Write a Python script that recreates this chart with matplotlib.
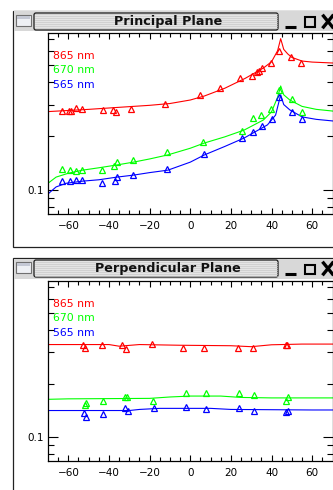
import matplotlib
matplotlib.use('Agg')
import matplotlib.pyplot as plt
import matplotlib.patches as patches
import numpy as np

# ---- data ----
legend_labels = ['865 nm', '670 nm', '565 nm']
colors = ['#ff0000', '#00ff00', '#0000ff']

# Principal plane: measured points
pp_x_red = [-63.1, -59.7, -58.7, -56.2, -53.3, -43.0, -38.0, -36.7, -29.2, -12.5, 4.7,
            14.5, 24.3, 30.2, 32.7, 33.7, 35.1, 39.6, 43.5, 49.4, 54.3]
pp_red = [0.276, 0.276, 0.276, 0.287, 0.284, 0.280, 0.280, 0.273, 0.284, 0.302, 0.340,
          0.371, 0.422, 0.433, 0.456, 0.460, 0.481, 0.512, 0.598, 0.553, 0.512]
pp_x_green = [-63.1, -59.2, -56.2, -53.3, -43.5, -37.6, -36.1, -28.2, -11.5, 6.1, 25.3,
              30.7, 34.6, 39.5, 43.5, 49.9, 55.2]
pp_green = [0.131, 0.129, 0.128, 0.129, 0.129, 0.136, 0.143, 0.147, 0.163, 0.185, 0.214,
            0.253, 0.262, 0.284, 0.362, 0.322, 0.273]
pp_x_blue = [-63.1, -59.2, -56.2, -53.3, -43.5, -37.1, -36.1, -28.2, -11.5, 6.6, 25.3,
             30.7, 35.1, 40.0, 43.9, 49.9, 55.2]
pp_blue = [0.112, 0.112, 0.114, 0.114, 0.109, 0.112, 0.118, 0.121, 0.131, 0.159, 0.195,
           0.211, 0.228, 0.249, 0.331, 0.273, 0.250]

# Principal plane: model curves
ppc_x_red = [-70, -60, -50, -40, -30, -20, -10, 0, 7, 17, 27, 36, 40, 43, 44.5, 46, 48, 50, 55, 60, 70]
ppc_red = [0.274, 0.278, 0.282, 0.287, 0.292, 0.297, 0.304, 0.318, 0.335, 0.37, 0.42, 0.48,
           0.52, 0.60, 0.70, 0.61, 0.575, 0.55, 0.525, 0.518, 0.512]
ppc_x_green = [-70, -66, -60, -53, -45, -36, -28, -20, -11, 0, 7, 17, 26.5, 36, 40, 43, 44.5,
               46, 49, 55, 62, 70]
ppc_green = [0.109, 0.118, 0.124, 0.129, 0.133, 0.138, 0.143, 0.149, 0.157, 0.171, 0.183,
             0.198, 0.216, 0.246, 0.273, 0.33, 0.381, 0.34, 0.318, 0.293, 0.282, 0.276]
ppc_x_blue = [-70, -66, -61, -53, -45, -36, -28, -20, -11, 0, 7, 17, 26.5, 38, 42, 44.5, 46,
              49, 55, 62, 70]
ppc_blue = [0.095, 0.104, 0.109, 0.112, 0.114, 0.118, 0.121, 0.125, 0.129, 0.143, 0.157,
            0.175, 0.195, 0.231, 0.262, 0.34, 0.30, 0.28, 0.256, 0.248, 0.243]

# Perpendicular plane: measured points
pe_x_red = [-52.8, -51.8, -43.5, -33.6, -31.7, -18.9, -3.7, 6.6, 23.3, 30.7, 46.9, 47.4]
pe_red = [0.331, 0.318, 0.331, 0.327, 0.314, 0.335, 0.318, 0.318, 0.318, 0.318, 0.331, 0.327]
pe_x_green = [-51.8, -51.3, -43.0, -32.2, -31.2, -18.4, -2.2, 7.6, 23.8, 31.2, 46.9, 47.9]
pe_green = [0.151, 0.155, 0.159, 0.167, 0.169, 0.159, 0.176, 0.176, 0.178, 0.172, 0.159, 0.169]
pe_x_blue = [-52.3, -51.3, -43.0, -32.2, -30.7, -17.9, -2.2, 7.6, 23.8, 31.2, 46.9, 47.9]
pe_blue = [0.136, 0.129, 0.134, 0.145, 0.140, 0.145, 0.147, 0.143, 0.145, 0.140, 0.138, 0.140]

# Perpendicular plane: model curves
pec_x_red = [-70, -40, -35, -25, -5, 20, 30, 40, 55, 70]
pec_red = [0.331, 0.331, 0.324, 0.331, 0.328, 0.326, 0.322, 0.330, 0.333, 0.333]
pec_x_green = [-70, -60, -20, -10, 0, 15, 25, 40, 70]
pec_green = [0.163, 0.164, 0.165, 0.168, 0.170, 0.170, 0.167, 0.166, 0.166]
pec_x_blue = [-70, -30, -25, -15, 10, 20, 60, 70]
pec_blue = [0.141, 0.141, 0.143, 0.145, 0.145, 0.143, 0.142, 0.142]

W, H = 333, 490
fig = plt.figure(figsize=(W / 100, H / 100), dpi=100)
fig.patch.set_facecolor('white')

# background layer in pixel coordinates for the window decorations
bg = fig.add_axes([0, 0, 1, 1])
bg.set_xlim(0, W)
bg.set_ylim(H, 0)
bg.axis('off')


def draw_window(top, bottom, title):
    # frame
    bg.add_patch(patches.Rectangle((13, top), W, (bottom if bottom else H + 5) - top,
                                   facecolor='white', edgecolor='#222222', linewidth=0.9))
    # title bar
    bg.add_patch(patches.Rectangle((13.5, top + 0.5), W, 20, facecolor='#d8d8d8', edgecolor='none'))
    # window icon
    bg.add_patch(patches.Rectangle((16, top + 4), 15, 11, facecolor='#eef0f4',
                                   edgecolor='#707070', linewidth=0.8))
    bg.add_patch(patches.Rectangle((17, top + 5), 13, 3, facecolor='#c4c8d4', edgecolor='none'))
    # title box with stripes
    bg.add_patch(patches.FancyBboxPatch((34, top + 2), 244, 17,
                                        boxstyle='round,pad=0,rounding_size=2',
                                        facecolor='#e4e4e4', edgecolor='#1a1a1a', linewidth=0.9))
    for yy in np.arange(top + 3.5, top + 19, 2):
        bg.plot([35, 277], [yy, yy], color='#c9c9c9', linewidth=0.5)
    bg.text(168, top + 10.5, title, ha='center', va='center', fontsize=9.2,
            fontweight='bold', color='#111111')
    # buttons
    bg.plot([285, 296], [top + 16, top + 16], color='black', linewidth=2.2, solid_capstyle='butt')
    bg.add_patch(patches.Rectangle((305, top + 6.5), 10, 9.5, facecolor='none',
                                   edgecolor='black', linewidth=1.5))
    bg.plot([323.5, 332.5], [top + 5, top + 16], color='black', linewidth=2.4)
    bg.plot([323.5, 332.5], [top + 16, top + 5], color='black', linewidth=2.4)


draw_window(11, 247, 'Principal Plane')
draw_window(258, None, 'Perpendicular Plane')

ylim = (0.0734, 0.753)


def make_axes(top_px, bottom_px, points, curves):
    left_px, right_px = 48, 332.5
    ax = fig.add_axes([left_px / W, (H - bottom_px) / H,
                       (right_px - left_px) / W, (bottom_px - top_px) / H])
    ax.set_facecolor('white')
    for (cx, cy), c in zip(curves, colors):
        ax.plot(cx, cy, color=c, linewidth=0.8)
    for (px, py), c in zip(points, colors):
        ax.plot(px, py, linestyle='none', marker='^', markersize=4.6, markerfacecolor='none',
                markeredgecolor=c, markeredgewidth=0.9)
    ax.set_yscale('log')
    ax.set_xlim(-70, 70)
    ax.set_ylim(*ylim)
    ax.set_xticks([-60, -40, -20, 0, 20, 40, 60])
    ax.set_xticks(np.arange(-65, 70, 5), minor=True)
    ax.set_yticks([0.1])
    ax.set_yticklabels(['0.1'])
    ax.set_yticks([0.08, 0.09, 0.2, 0.3, 0.4, 0.5, 0.6, 0.7], minor=True)
    ax.yaxis.set_minor_formatter(plt.NullFormatter())
    ax.tick_params(which='both', direction='in', top=True, right=True,
                   width=0.8, labelsize=7.5, colors='black')
    ax.tick_params(axis='x', which='major', length=4, pad=5)
    ax.tick_params(axis='x', which='minor', length=3)
    ax.tick_params(axis='y', which='major', length=7, pad=3)
    ax.tick_params(axis='y', which='minor', length=4)
    for s in ax.spines.values():
        s.set_linewidth(0.9)
    for i, (lab, c) in enumerate(zip(legend_labels, colors)):
        ax.text(0.018, 0.873 - i * 0.08, lab, color=c, fontsize=7.8,
                ha='left', va='center', transform=ax.transAxes)
    return ax


make_axes(33, 214,
          [(pp_x_red, pp_red), (pp_x_green, pp_green), (pp_x_blue, pp_blue)],
          [(ppc_x_red, ppc_red), (ppc_x_green, ppc_green), (ppc_x_blue, ppc_blue)])
make_axes(281, 461,
          [(pe_x_red, pe_red), (pe_x_green, pe_green), (pe_x_blue, pe_blue)],
          [(pec_x_red, pec_red), (pec_x_green, pec_green), (pec_x_blue, pec_blue)])

fig.savefig('out.png', dpi=100, facecolor='white')
